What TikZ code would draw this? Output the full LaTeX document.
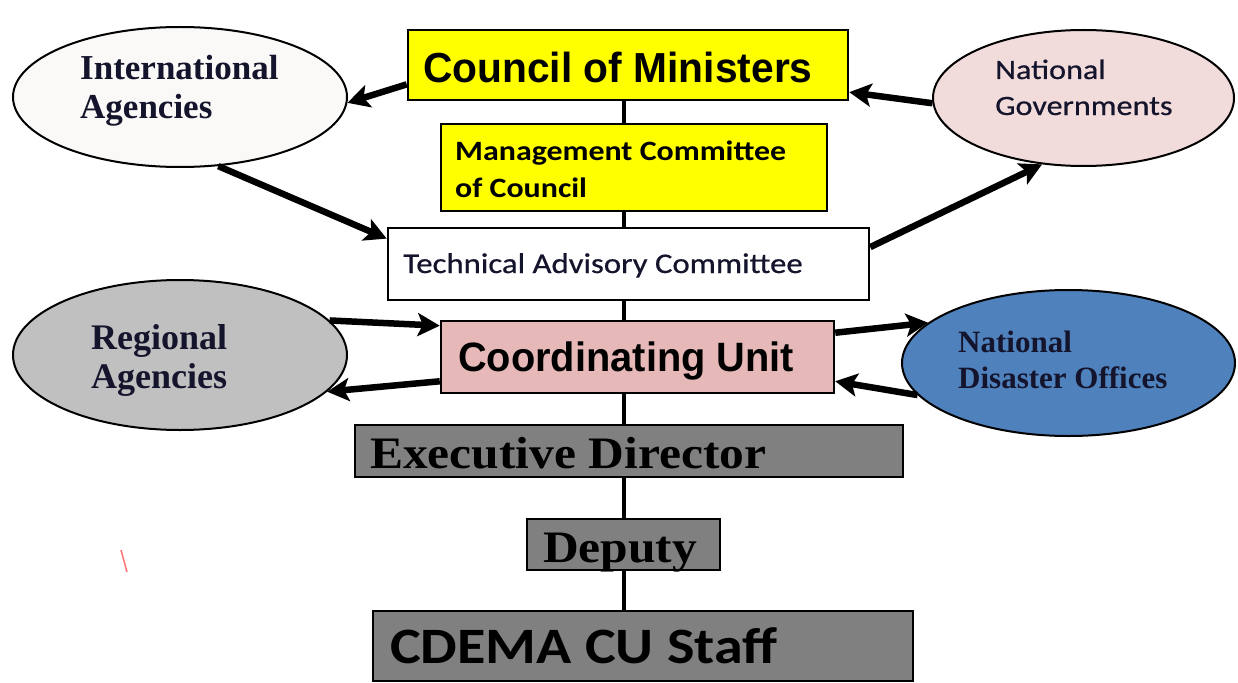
\documentclass[tikz,border=0pt]{standalone}
\usepackage{fontspec}
\usetikzlibrary{arrows.meta,shapes.geometric,backgrounds}
\newfontfamily\fcal[FakeStretch=1.14]{Carlito}
\newfontfamily\fcalr[FakeStretch=1.15,FakeBold=0.6]{Carlito}
\newfontfamily\fari[FakeStretch=0.97]{Liberation Sans}
\newfontfamily\ftim{Liberation Serif}
\newfontfamily\ftimw[FakeStretch=1.1]{Liberation Serif}
\newcommand\setfs[1]{\fontsize{#1}{#1}\selectfont}
\definecolor{cyel}{HTML}{FFFF00}
\definecolor{cpink}{HTML}{E6B9B8}
\definecolor{cgray}{HTML}{808080}
\definecolor{cia}{HTML}{FBF9F7}
\definecolor{cng}{HTML}{F2DCDB}
\definecolor{cra}{HTML}{C0C0C0}
\definecolor{cndo}{HTML}{4F81BD}
\definecolor{tdark}{HTML}{14142C}
\tikzset{
  boxnode/.style={draw=black, line width=2.5pt, rectangle, inner sep=0pt},
  ellnode/.style={draw=black, line width=2pt, ellipse, inner sep=0pt},
  lbl/.style={anchor=base west, inner sep=0pt},
  conn/.style={line width=6.5pt, -{Stealth[length=22pt,width=23pt,inset=5pt]}},
}
\begin{document}
\begin{tikzpicture}[x=1pt,y=-1pt]
\useasboundingbox (0,0) rectangle (1238,682);
% boxes
\node[boxnode, fill=cyel, minimum width=440pt, minimum height=70pt] (cm) at (628,65) {};
\node[boxnode, fill=cyel, minimum width=386pt, minimum height=87pt] (mc) at (634,167.5) {};
\node[boxnode, fill=white, minimum width=481pt, minimum height=72pt] (tac) at (628.5,264) {};
\node[boxnode, fill=cpink, minimum width=393pt, minimum height=72pt] (cu) at (637.5,357) {};
\node[boxnode, fill=cgray, minimum width=548pt, minimum height=52pt] (ed) at (629,451) {};
\node[boxnode, fill=cgray, minimum width=193pt, minimum height=51pt] (dep) at (623.5,544.5) {};
\node[boxnode, fill=cgray, minimum width=540pt, minimum height=70pt] (st) at (643,646) {};
% vertical spine
\coordinate (spt) at (624,100);
\coordinate (spb) at (624,611);
\begin{scope}[on background layer]
\draw[line width=4pt] (spt) -- (spb);
\end{scope}
% ellipses
\node[ellnode, fill=cia, minimum width=334pt, minimum height=140pt] (ia) at (180,97) {};
\node[ellnode, fill=cng, minimum width=301pt, minimum height=136pt] (ng) at (1083.5,98) {};
\node[ellnode, fill=cra, minimum width=334pt, minimum height=150pt] (ra) at (180,355) {};
\node[ellnode, fill=cndo, minimum width=333pt, minimum height=146pt] (ndo) at (1068.5,363) {};
% box labels
\node[lbl] (cmt) at (423,83) {\fari\bfseries\setfs{42}Council of Ministers};
\node[lbl] (mct1) at (455,160) {\fcal\bfseries\setfs{28}Management Committee};
\node[lbl] (mct2) at (455,197) {\fcal\bfseries\setfs{28}of Council};
\node[lbl, text=tdark] (tact) at (403,273) {\fcalr\setfs{28.5}Technical Advisory Committee};
\node[lbl] (cut) at (458,371) {\fari\bfseries\setfs{41}Coordinating Unit};
\node[lbl] (edt) at (370,468) {\ftimw\bfseries\setfs{45}Executive Director};
\node[lbl] (dept) at (543,562) {\ftimw\bfseries\setfs{45}Deputy};
\node[lbl] (stt) at (390,663) {\fcal\bfseries\setfs{51}CDEMA CU Staff};
% ellipse labels
\node[lbl, text=tdark] (iat1) at (80,80) {\ftim\bfseries\setfs{35}International};
\node[lbl, text=tdark] (iat2) at (80,118) {\ftim\bfseries\setfs{35}Agencies};
\node[lbl, text=tdark] (ngt1) at (995,79) {\fcalr\setfs{28}National};
\node[lbl, text=tdark] (ngt2) at (995,115) {\fcalr\setfs{28}Governments};
\node[lbl, text=tdark] (rat1) at (91,349) {\ftim\bfseries\setfs{36}Regional};
\node[lbl, text=tdark] (rat2) at (91,388) {\ftim\bfseries\setfs{36}Agencies};
\node[lbl, text=tdark] (ndot1) at (958,352) {\ftim\bfseries\setfs{31}National};
\node[lbl, text=tdark] (ndot2) at (958,388) {\ftim\bfseries\setfs{31}Disaster Offices};
% connectors
\draw[conn] (cm.185) -- (ia.-2);
\draw[conn] (ng.182) -- (cm.-7);
\draw[conn] (ia.-61) -- (tac.174);
\draw[conn] (tac.4) -- (ng.-122);
\draw[conn] (ra.13.5) -- (cu.171);
\draw[conn] (cu.187) -- (ra.-14);
\draw[conn] (cu.7.7) -- (ndo.164);
\draw[conn] (ndo.192) -- (cu.-7);
% stray mark
\draw[red!55, line width=1.5pt] (121,550) -- (127,572);
\end{tikzpicture}
\end{document}
